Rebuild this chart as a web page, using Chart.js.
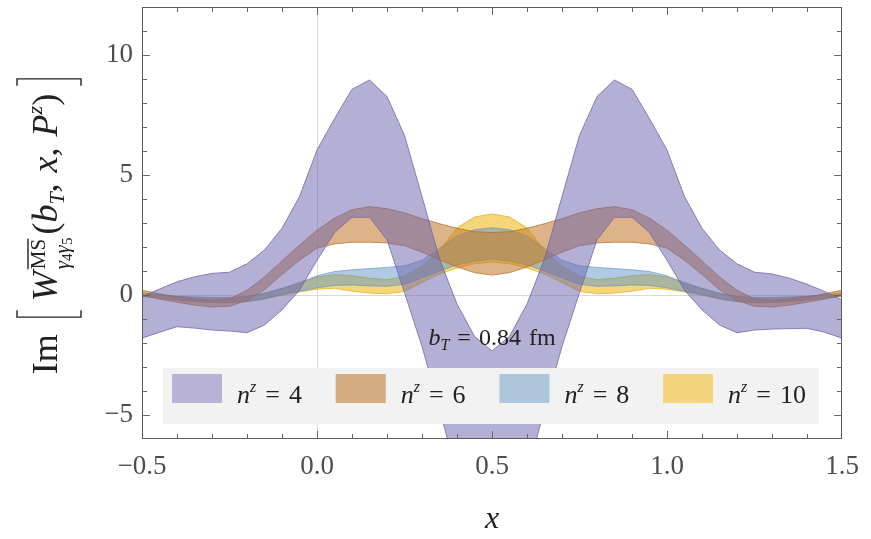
<!DOCTYPE html>
<html>
<head>
<meta charset="utf-8">
<script src="https://cdn.jsdelivr.net/npm/chart.js@4.4.0/dist/chart.umd.min.js"></script>
<style>
  html, body { margin: 0; padding: 0; background: #fff; }
  #wrap { width: 871px; height: 539px; position: relative; }
</style>
</head>
<body>
<div id="wrap"><canvas id="wChart"></canvas></div>
<script>
// x grid of the bands
const xs = [-0.5, -0.45, -0.4, -0.35, -0.3, -0.25, -0.2, -0.15, -0.1, -0.05,
            0.0, 0.05, 0.1, 0.15, 0.2, 0.25, 0.3, 0.35, 0.4, 0.45,
            0.5, 0.55, 0.6, 0.65, 0.7, 0.75, 0.8, 0.85, 0.9, 0.95,
            1.0, 1.05, 1.1, 1.15, 1.2, 1.25, 1.3, 1.35, 1.4, 1.45, 1.5];

// n^z = 4
const n4Upper = [-0.07, 0.25, 0.55, 0.76, 0.9, 0.95, 1.3, 1.88, 2.78, 4.1,
                 6.04, 7.35, 8.57, 8.96, 8.27, 6.65, 4.1, 1.5, -0.38, -1.72,
                 -2.33, -1.72, -0.38, 1.5, 4.1, 6.65, 8.27, 8.96, 8.57, 7.35,
                 6.04, 4.1, 2.78, 1.88, 1.3, 0.95, 0.88, 0.7, 0.45, 0.15, -0.2];
const n4Lower = [-1.8, -1.55, -1.32, -1.38, -1.46, -1.5, -1.57, -1.25, -0.62, 0.2,
                 1.45, 2.6, 3.24, 3.24, 2.3, 0.1, -2.15, -4.75, -7.5, -8.7,
                 -9.0, -8.7, -7.5, -4.75, -2.15, 0.1, 2.3, 3.24, 3.24, 2.6,
                 1.45, 0.2, -0.62, -1.25, -1.57, -1.46, -1.42, -1.4, -1.39, -1.55, -1.8];

// n^z = 6
const n6Upper = [0.2, 0.05, -0.08, -0.17, -0.22, -0.17, 0.2, 0.75, 1.42, 2.08,
                 2.7, 3.2, 3.55, 3.68, 3.6, 3.42, 3.18, 2.97, 2.78, 2.64,
                 2.6, 2.64, 2.78, 2.97, 3.18, 3.42, 3.6, 3.68, 3.55, 3.2,
                 2.7, 2.08, 1.42, 0.75, 0.2, -0.17, -0.22, -0.17, -0.08, 0.05, 0.2];
const n6Lower = [-0.02, -0.17, -0.3, -0.42, -0.5, -0.47, -0.22, 0.22, 0.85, 1.45,
                 1.95, 2.13, 2.2, 2.2, 2.17, 2.05, 1.78, 1.47, 1.17, 0.93,
                 0.83, 0.93, 1.17, 1.47, 1.78, 2.05, 2.17, 2.2, 2.2, 2.13,
                 1.95, 1.45, 0.85, 0.22, -0.22, -0.47, -0.5, -0.42, -0.3, -0.17, -0.02];

// n^z = 8
const n8Upper = [0.05, 0.0, -0.05, -0.08, -0.1, -0.1, -0.05, 0.08, 0.28, 0.52,
                 0.8, 0.98, 1.05, 1.1, 1.15, 1.22, 1.45, 1.95, 2.45, 2.72,
                 2.8, 2.72, 2.45, 1.95, 1.45, 1.22, 1.15, 1.1, 1.05, 0.98,
                 0.8, 0.52, 0.28, 0.08, -0.05, -0.1, -0.1, -0.08, -0.05, 0.0, 0.05];
const n8Lower = [-0.05, -0.12, -0.2, -0.26, -0.3, -0.3, -0.27, -0.15, 0.02, 0.16,
                 0.3, 0.4, 0.42, 0.38, 0.36, 0.45, 0.72, 1.0, 1.25, 1.42,
                 1.5, 1.42, 1.25, 1.0, 0.72, 0.45, 0.36, 0.38, 0.42, 0.4,
                 0.3, 0.16, 0.02, -0.15, -0.27, -0.3, -0.3, -0.26, -0.2, -0.12, -0.05];

// n^z = 10
const n10Upper = [0.1, 0.0, -0.06, -0.1, -0.12, -0.12, -0.07, 0.05, 0.25, 0.48,
                  0.75, 0.85, 0.8, 0.7, 0.64, 0.78, 1.2, 1.85, 2.8, 3.25,
                  3.38, 3.25, 2.8, 1.85, 1.2, 0.78, 0.64, 0.7, 0.8, 0.85,
                  0.75, 0.48, 0.25, 0.05, -0.07, -0.12, -0.12, -0.1, -0.06, 0.0, 0.1];
const n10Lower = [-0.05, -0.14, -0.22, -0.28, -0.32, -0.32, -0.28, -0.17, 0.0, 0.12,
                  0.24, 0.28, 0.16, 0.08, 0.05, 0.15, 0.52, 0.88, 1.12, 1.3,
                  1.38, 1.3, 1.12, 0.88, 0.52, 0.15, 0.05, 0.08, 0.16, 0.28,
                  0.24, 0.12, 0.0, -0.17, -0.28, -0.32, -0.32, -0.28, -0.22, -0.14, -0.05];

const nzValues = ['4', '6', '8', '10'];
const yTickLabels = [-5, 0, 5, 10];
const bT = '0.84';

const bands = [
  { upper: n4Upper, lower: n4Lower, fill: 'rgba(112,102,172,0.52)', line: 'rgba(105,95,165,0.75)', swatch: '#b8b3d6' },
  { upper: n6Upper, lower: n6Lower, fill: 'rgba(196,124,48,0.58)', line: 'rgba(170,105,40,0.7)', swatch: '#d4aa80' },
  { upper: n8Upper, lower: n8Lower, fill: 'rgba(98,150,200,0.5)', line: 'rgba(90,140,195,0.6)', swatch: '#adc6dc' },
  { upper: n10Upper, lower: n10Lower, fill: 'rgba(238,186,30,0.6)', line: 'rgba(220,170,20,0.7)', swatch: '#f1d47c' }
];

const pts = arr => arr.map((v, i) => ({ x: xs[i], y: v }));

const datasets = [];
bands.forEach((b, i) => {
  datasets.push({
    label: 'n^z = ' + nzValues[i],
    data: pts(b.upper),
    fill: '+1',
    backgroundColor: b.fill,
    borderColor: b.line,
    borderWidth: 1
  });
  datasets.push({
    label: 'n^z = ' + nzValues[i] + ' lower',
    data: pts(b.lower),
    fill: false,
    borderColor: b.line,
    borderWidth: 1
  });
});

const SERIF = '"Liberation Serif", "DejaVu Serif", serif';

// rich text: runs of text with their own font and baseline shift
function partWidth(ctx, p) {
  if (p.gap) return p.gap;
  if (p.bracket) return p.w;
  if (p.stack) return Math.max(...p.stack.map(row => richWidth(ctx, row)));
  ctx.font = p.f;
  return ctx.measureText(p.t).width;
}
function richWidth(ctx, parts) {
  return parts.reduce((s, p) => s + partWidth(ctx, p), 0);
}
function drawRich(ctx, parts, x, y) {
  let cx = x;
  for (const p of parts) {
    const w = partWidth(ctx, p);
    if (p.stack) {
      p.stack.forEach(row => drawRich(ctx, row, cx, y));
    } else if (p.bracket) {
      const vx = p.bracket === '[' ? cx + 3 : cx + w - 3;
      const dir = p.bracket === '[' ? 1 : -1;
      ctx.beginPath();
      ctx.moveTo(vx + dir * 7, y + p.top);
      ctx.lineTo(vx, y + p.top);
      ctx.lineTo(vx, y + p.bot);
      ctx.lineTo(vx + dir * 7, y + p.bot);
      ctx.stroke();
    } else if (p.t) {
      ctx.font = p.f;
      ctx.fillText(p.t, cx, y + (p.dy || 0));
      if (p.over) {
        ctx.beginPath();
        ctx.moveTo(cx, y + p.over);
        ctx.lineTo(cx + w, y + p.over);
        ctx.stroke();
      }
    }
    cx += w;
  }
}

const yTitleParts = [
  { t: 'Im', f: `36px ${SERIF}` },
  { gap: 14 },
  { bracket: '[', w: 12, top: -40, bot: 24 },
  { gap: 7 },
  { t: 'W', f: `italic 36px ${SERIF}` },
  { gap: 2 },
  { stack: [
    [{ t: 'MS', f: `21px ${SERIF}`, dy: -12, over: -29 }],
    [{ t: 'γ', f: `italic 21px ${SERIF}`, dy: 12 }, { t: '4', f: `15px ${SERIF}`, dy: 15 },
     { t: 'γ', f: `italic 21px ${SERIF}`, dy: 12 }, { t: '5', f: `15px ${SERIF}`, dy: 15 }]
  ] },
  { gap: 3 },
  { t: '(', f: `36px ${SERIF}` },
  { t: 'b', f: `italic 36px ${SERIF}` },
  { t: 'T', f: `italic 22px ${SERIF}`, dy: 7 },
  { t: ',', f: `36px ${SERIF}` },
  { gap: 11 },
  { t: 'x', f: `italic 36px ${SERIF}` },
  { t: ',', f: `36px ${SERIF}` },
  { gap: 11 },
  { t: 'P', f: `italic 36px ${SERIF}` },
  { t: 'z', f: `italic 22px ${SERIF}`, dy: -15 },
  { t: ')', f: `36px ${SERIF}` },
  { gap: 6 },
  { bracket: ']', w: 12, top: -40, bot: 24 }
];

const yTitle = {
  id: 'yTitle',
  afterDraw(chart) {
    const ctx = chart.ctx;
    ctx.save();
    ctx.translate(57, 225);
    ctx.rotate(-Math.PI / 2);
    ctx.fillStyle = '#222';
    ctx.strokeStyle = '#222';
    ctx.lineWidth = 1.4;
    ctx.textBaseline = 'alphabetic';
    ctx.textAlign = 'left';
    const w = richWidth(ctx, yTitleParts);
    drawRich(ctx, yTitleParts, -w / 2, 0);
    ctx.restore();
  }
};

const bandLegend = {
  id: 'bandLegend',
  afterDatasetsDraw(chart) {
    const { ctx, chartArea: a, scales: { x, y } } = chart;
    ctx.save();
    ctx.textBaseline = 'alphabetic';
    ctx.textAlign = 'left';

    // b_T label
    ctx.fillStyle = '#222';
    const lab = [
      { t: 'b', f: `italic 24px ${SERIF}` },
      { t: 'T', f: `italic 16px ${SERIF}`, dy: 5 },
      { gap: 8 },
      { t: '=', f: `24px ${SERIF}` },
      { gap: 8 },
      { t: bT, f: `24px ${SERIF}` },
      { gap: 8 },
      { t: 'fm', f: `24px ${SERIF}` }
    ];
    const lw = richWidth(ctx, lab);
    drawRich(ctx, lab, x.getPixelForValue(0.5) - lw / 2, y.getPixelForValue(-2.08));

    // legend box
    ctx.fillStyle = '#f2f2f2';
    ctx.fillRect(a.left + 21, a.bottom - 71, a.width - 44, 56);
    bands.forEach((b, i) => {
      const sx = a.left + 30 + i * 163.7;
      const sy = a.bottom - 65;
      ctx.fillStyle = b.swatch;
      ctx.fillRect(sx, sy, 50, 29);
      ctx.fillStyle = '#222';
      drawRich(ctx, [
        { t: 'n', f: `italic 26px ${SERIF}` },
        { t: 'z', f: `italic 16px ${SERIF}`, dy: -11 },
        { gap: 9 },
        { t: '=', f: `26px ${SERIF}` },
        { gap: 9 },
        { t: nzValues[i], f: `26px ${SERIF}` }
      ], sx + 65, sy + 29);
    });

    // frame with inward ticks on all four sides
    ctx.strokeStyle = '#5a5a5a';
    ctx.lineWidth = 1;
    ctx.strokeRect(a.left + 0.5, a.top + 0.5, a.width - 1, a.height - 1);
    ctx.strokeStyle = '#666';
    ctx.beginPath();
    for (let k = -4; k <= 14; k++) {
      const px = Math.round(x.getPixelForValue(k / 10)) + 0.5;
      const len = k % 5 === 0 ? 8 : 5;
      ctx.moveTo(px, a.bottom); ctx.lineTo(px, a.bottom - len);
      ctx.moveTo(px, a.top); ctx.lineTo(px, a.top + len);
    }
    for (let v = -5; v <= 11; v++) {
      const py = Math.round(y.getPixelForValue(v)) + 0.5;
      const len = v % 5 === 0 ? 8 : 5;
      ctx.moveTo(a.left, py); ctx.lineTo(a.left + len, py);
      ctx.moveTo(a.right, py); ctx.lineTo(a.right - len, py);
    }
    ctx.stroke();
    ctx.restore();
  }
};

const zeroGrid = ctx => (ctx.tick && ctx.tick.value === 0 ? '#d9d9d9' : 'rgba(0,0,0,0)');

new Chart(document.getElementById('wChart'), {
  type: 'line',
  data: { datasets },
  options: {
    responsive: true,
    maintainAspectRatio: false,
    animation: false,
    layout: { padding: { top: 7, right: 29, bottom: 0, left: 0 } },
    elements: { point: { radius: 0 }, line: { tension: 0 } },
    plugins: { legend: { display: false }, tooltip: { enabled: false } },
    scales: {
      x: {
        type: 'linear',
        min: -0.5,
        max: 1.5,
        border: { display: false },
        grid: { color: zeroGrid, drawTicks: false },
        ticks: {
          stepSize: 0.5,
          padding: 12,
          color: '#4d4d4d',
          font: { family: SERIF, size: 27 },
          callback: v => (v < 0 ? '\u2212' : '') + Math.abs(v).toFixed(1)
        },
        title: {
          display: true,
          text: 'x',
          color: '#222',
          font: { family: SERIF, size: 32, style: 'italic' },
          padding: { top: 0, bottom: 0 }
        },
        afterFit: s => { s.height = 100; s.paddingLeft = 0; s.paddingRight = 0; }
      },
      y: {
        min: -6,
        max: 12,
        border: { display: false },
        grid: { color: zeroGrid, drawTicks: false },
        ticks: {
          stepSize: 5,
          includeBounds: false,
          padding: 9,
          color: '#4d4d4d',
          font: { family: SERIF, size: 27 },
          callback: v => yTickLabels.includes(v) ? (v < 0 ? '\u2212' : '') + Math.abs(v) : ''
        },
        afterFit: s => { s.width = 142; s.paddingTop = 0; s.paddingBottom = 0; }
      }
    }
  },
  plugins: [bandLegend, yTitle]
});
</script>
</body>
</html>
